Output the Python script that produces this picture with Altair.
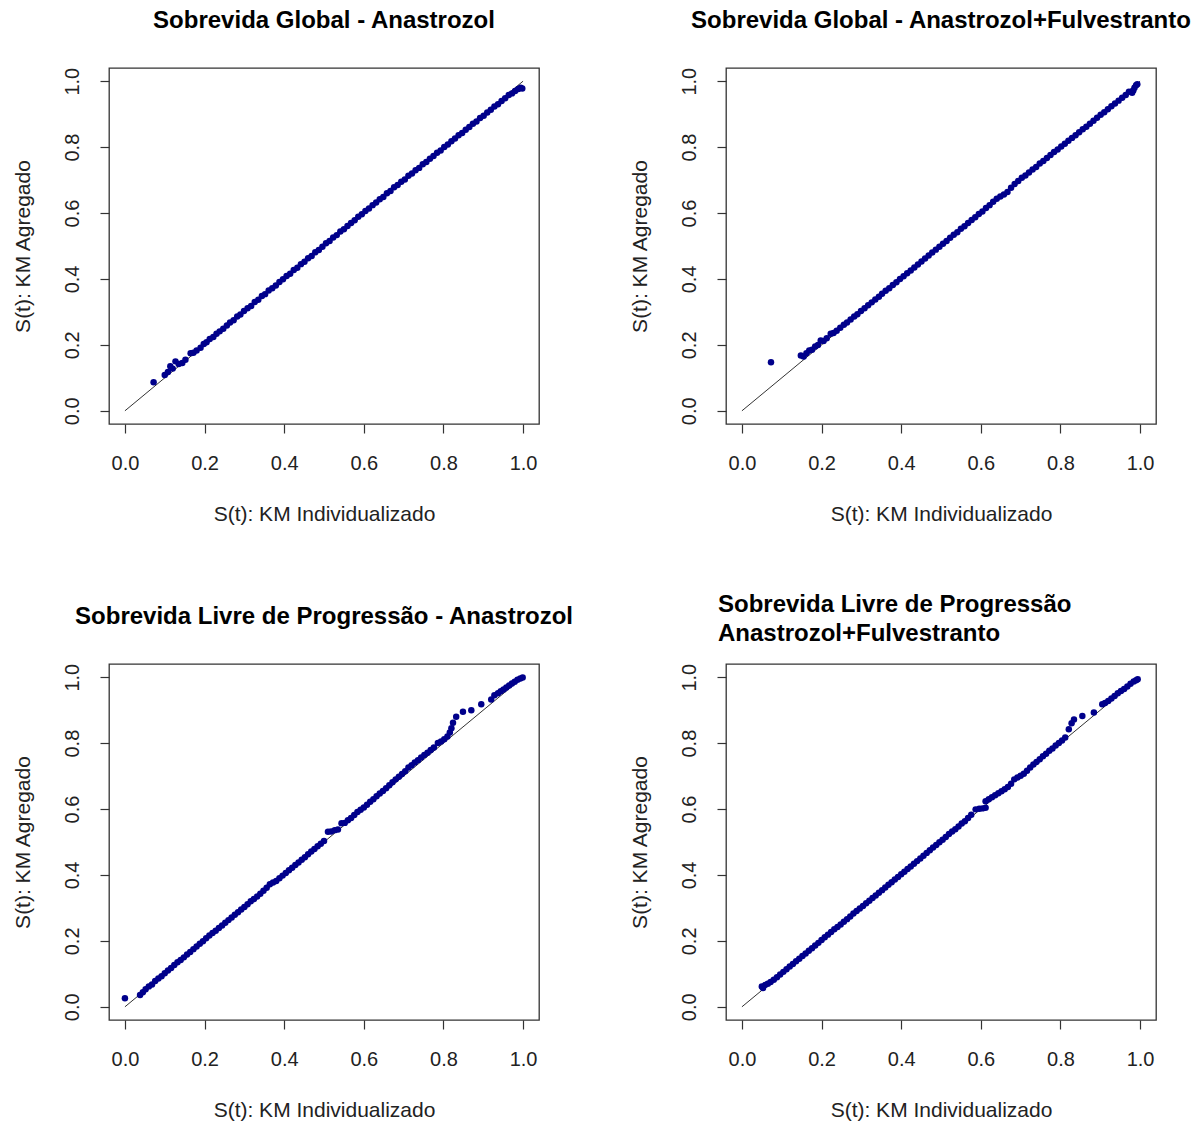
import altair as alt
import pandas as pd

# ---- data (x = KM individualizado, y = KM agregado) ----
og_anastrozol = [
    (0.072, 0.087), (0.100, 0.109), (0.108, 0.118), (0.114, 0.135), (0.120, 0.128),
    (0.127, 0.150), (0.135, 0.142), (0.144, 0.145), (0.152, 0.155), (0.165, 0.175),
    (0.172, 0.176), (0.180, 0.183), (0.190, 0.191), (0.198, 0.203), (0.205, 0.208),
    (0.213, 0.218), (0.222, 0.224), (0.230, 0.234), (0.238, 0.241), (0.247, 0.249),
    (0.256, 0.259), (0.264, 0.268), (0.273, 0.275), (0.282, 0.286), (0.290, 0.292),
    (0.299, 0.303), (0.308, 0.311), (0.317, 0.318), (0.326, 0.330), (0.335, 0.337),
    (0.344, 0.348), (0.352, 0.354), (0.361, 0.365), (0.370, 0.372), (0.379, 0.380),
    (0.388, 0.391), (0.397, 0.399), (0.406, 0.409), (0.415, 0.416), (0.424, 0.427),
    (0.433, 0.434), (0.442, 0.445), (0.451, 0.452), (0.460, 0.463), (0.469, 0.470),
    (0.478, 0.481), (0.487, 0.488), (0.496, 0.498), (0.505, 0.508), (0.514, 0.515),
    (0.523, 0.526), (0.532, 0.533), (0.541, 0.544), (0.550, 0.551), (0.559, 0.561),
    (0.568, 0.570), (0.577, 0.578), (0.586, 0.589), (0.595, 0.596), (0.604, 0.606),
    (0.613, 0.614), (0.622, 0.624), (0.631, 0.632), (0.640, 0.642), (0.649, 0.649),
    (0.658, 0.660), (0.667, 0.667), (0.676, 0.678), (0.685, 0.685), (0.694, 0.695),
    (0.703, 0.702), (0.712, 0.713), (0.721, 0.720), (0.730, 0.730), (0.739, 0.737),
    (0.748, 0.748), (0.757, 0.755), (0.766, 0.765), (0.775, 0.773), (0.784, 0.783),
    (0.793, 0.790), (0.802, 0.800), (0.811, 0.808), (0.820, 0.818), (0.829, 0.826),
    (0.838, 0.836), (0.847, 0.843), (0.856, 0.853), (0.865, 0.861), (0.874, 0.871),
    (0.883, 0.878), (0.892, 0.888), (0.901, 0.895), (0.910, 0.905), (0.919, 0.913),
    (0.928, 0.923), (0.937, 0.930), (0.946, 0.940), (0.955, 0.948), (0.964, 0.958),
    (0.972, 0.963), (0.980, 0.970), (0.988, 0.976), (0.994, 0.980), (0.998, 0.978),
]

og_anastrozol_fulvestranto = [
    (0.073, 0.147), (0.148, 0.168), (0.155, 0.165), (0.162, 0.175), (0.169, 0.183),
    (0.176, 0.185), (0.184, 0.195), (0.191, 0.200), (0.198, 0.213), (0.205, 0.212),
    (0.213, 0.220), (0.223, 0.234), (0.230, 0.236), (0.238, 0.243), (0.247, 0.252),
    (0.256, 0.261), (0.264, 0.268), (0.273, 0.277), (0.282, 0.286), (0.290, 0.293),
    (0.299, 0.303), (0.308, 0.311), (0.317, 0.320), (0.326, 0.329), (0.335, 0.338),
    (0.344, 0.346), (0.352, 0.355), (0.361, 0.364), (0.370, 0.372), (0.379, 0.382),
    (0.388, 0.390), (0.397, 0.400), (0.406, 0.408), (0.415, 0.417), (0.424, 0.426),
    (0.433, 0.435), (0.442, 0.444), (0.451, 0.453), (0.460, 0.462), (0.469, 0.471),
    (0.478, 0.480), (0.487, 0.489), (0.496, 0.498), (0.505, 0.507), (0.514, 0.515),
    (0.523, 0.525), (0.532, 0.534), (0.541, 0.542), (0.550, 0.552), (0.559, 0.560),
    (0.568, 0.570), (0.577, 0.579), (0.586, 0.587), (0.595, 0.597), (0.604, 0.605),
    (0.613, 0.615), (0.622, 0.624), (0.631, 0.634), (0.640, 0.643), (0.649, 0.650),
    (0.658, 0.656), (0.667, 0.664), (0.676, 0.677), (0.685, 0.688), (0.694, 0.697),
    (0.703, 0.707), (0.712, 0.714), (0.721, 0.723), (0.730, 0.732), (0.739, 0.740),
    (0.748, 0.750), (0.757, 0.758), (0.766, 0.767), (0.775, 0.776), (0.784, 0.785),
    (0.793, 0.793), (0.802, 0.802), (0.811, 0.810), (0.820, 0.819), (0.829, 0.828),
    (0.838, 0.836), (0.847, 0.845), (0.856, 0.854), (0.865, 0.862), (0.874, 0.871),
    (0.883, 0.880), (0.892, 0.889), (0.901, 0.898), (0.910, 0.906), (0.919, 0.915),
    (0.928, 0.924), (0.937, 0.932), (0.946, 0.941), (0.955, 0.950), (0.964, 0.958),
    (0.972, 0.968), (0.980, 0.965), (0.983, 0.972), (0.986, 0.980), (0.990, 0.988),
    (0.993, 0.991),
]

slp_anastrozol = [
    (0.000, 0.026), (0.038, 0.036), (0.045, 0.044), (0.052, 0.053), (0.060, 0.062),
    (0.068, 0.068), (0.076, 0.078), (0.084, 0.086), (0.092, 0.093), (0.100, 0.102),
    (0.108, 0.110), (0.116, 0.118), (0.124, 0.127), (0.132, 0.135), (0.140, 0.142),
    (0.148, 0.150), (0.156, 0.159), (0.164, 0.166), (0.172, 0.175), (0.180, 0.183),
    (0.188, 0.191), (0.196, 0.199), (0.204, 0.208), (0.212, 0.216), (0.220, 0.224),
    (0.228, 0.231), (0.236, 0.239), (0.244, 0.247), (0.252, 0.255), (0.260, 0.263),
    (0.268, 0.271), (0.276, 0.279), (0.284, 0.287), (0.292, 0.295), (0.300, 0.303),
    (0.308, 0.311), (0.316, 0.320), (0.324, 0.327), (0.332, 0.335), (0.340, 0.343),
    (0.348, 0.352), (0.356, 0.361), (0.364, 0.372), (0.372, 0.377), (0.380, 0.382),
    (0.388, 0.390), (0.396, 0.398), (0.404, 0.406), (0.412, 0.414), (0.420, 0.422),
    (0.428, 0.430), (0.436, 0.438), (0.444, 0.446), (0.452, 0.454), (0.460, 0.463),
    (0.468, 0.471), (0.476, 0.479), (0.484, 0.487), (0.492, 0.495), (0.500, 0.503),
    (0.510, 0.531), (0.518, 0.532), (0.527, 0.536), (0.535, 0.538), (0.544, 0.557),
    (0.552, 0.558), (0.560, 0.566), (0.568, 0.573), (0.576, 0.582), (0.584, 0.591),
    (0.592, 0.598), (0.600, 0.605), (0.608, 0.613), (0.616, 0.622), (0.624, 0.630),
    (0.632, 0.639), (0.640, 0.647), (0.648, 0.655), (0.656, 0.663), (0.664, 0.672),
    (0.672, 0.681), (0.680, 0.690), (0.688, 0.698), (0.696, 0.706), (0.704, 0.715),
    (0.712, 0.726), (0.720, 0.733), (0.728, 0.741), (0.736, 0.748), (0.744, 0.756),
    (0.752, 0.764), (0.760, 0.771), (0.768, 0.779), (0.776, 0.787), (0.786, 0.800),
    (0.794, 0.805), (0.802, 0.812), (0.810, 0.820), (0.816, 0.832), (0.820, 0.845),
    (0.824, 0.862), (0.832, 0.880), (0.849, 0.895), (0.870, 0.900), (0.895, 0.918),
    (0.920, 0.932), (0.928, 0.945), (0.937, 0.951), (0.944, 0.957), (0.951, 0.963),
    (0.958, 0.969), (0.965, 0.975), (0.972, 0.981), (0.979, 0.986), (0.986, 0.992),
    (0.993, 0.996), (0.999, 0.999),
]

slp_anastrozol_fulvestranto = [
    (0.050, 0.062), (0.053, 0.057), (0.058, 0.066), (0.065, 0.070), (0.072, 0.075),
    (0.080, 0.082), (0.088, 0.090), (0.096, 0.098), (0.104, 0.106), (0.112, 0.114),
    (0.120, 0.122), (0.128, 0.130), (0.136, 0.138), (0.144, 0.146), (0.152, 0.154),
    (0.160, 0.162), (0.168, 0.170), (0.176, 0.178), (0.184, 0.186), (0.192, 0.194),
    (0.200, 0.203), (0.208, 0.211), (0.216, 0.219), (0.224, 0.227), (0.232, 0.235),
    (0.240, 0.242), (0.248, 0.250), (0.256, 0.258), (0.264, 0.266), (0.272, 0.274),
    (0.280, 0.283), (0.288, 0.291), (0.296, 0.298), (0.304, 0.306), (0.312, 0.314),
    (0.320, 0.322), (0.328, 0.330), (0.336, 0.338), (0.344, 0.346), (0.352, 0.354),
    (0.360, 0.362), (0.368, 0.370), (0.376, 0.378), (0.384, 0.386), (0.392, 0.394),
    (0.400, 0.402), (0.408, 0.410), (0.416, 0.418), (0.424, 0.426), (0.432, 0.434),
    (0.440, 0.442), (0.448, 0.450), (0.456, 0.458), (0.464, 0.467), (0.472, 0.475),
    (0.480, 0.483), (0.488, 0.491), (0.496, 0.499), (0.504, 0.507), (0.512, 0.515),
    (0.520, 0.524), (0.528, 0.532), (0.536, 0.539), (0.544, 0.547), (0.552, 0.556),
    (0.560, 0.563), (0.568, 0.573), (0.576, 0.583), (0.587, 0.599), (0.596, 0.601),
    (0.604, 0.602), (0.612, 0.604), (0.612, 0.624), (0.620, 0.630), (0.628, 0.636),
    (0.636, 0.642), (0.644, 0.648), (0.652, 0.654), (0.660, 0.660), (0.668, 0.667),
    (0.676, 0.677), (0.684, 0.690), (0.692, 0.696), (0.700, 0.701), (0.708, 0.707),
    (0.716, 0.716), (0.724, 0.726), (0.732, 0.735), (0.740, 0.743), (0.748, 0.751),
    (0.756, 0.760), (0.764, 0.768), (0.772, 0.777), (0.780, 0.784), (0.788, 0.793),
    (0.796, 0.800), (0.804, 0.808), (0.812, 0.817), (0.821, 0.842), (0.828, 0.860),
    (0.834, 0.872), (0.855, 0.882), (0.884, 0.893), (0.905, 0.918), (0.912, 0.922),
    (0.920, 0.928), (0.928, 0.935), (0.936, 0.943), (0.944, 0.951), (0.952, 0.958),
    (0.960, 0.964), (0.968, 0.972), (0.976, 0.980), (0.984, 0.987), (0.990, 0.991),
    (0.994, 0.994),
]

diag_line = [(0.0, 0.0), (1.0, 1.0)]
tick_values = [0.0, 0.2, 0.4, 0.6, 0.8, 1.0]

titles = [
    "Sobrevida Global - Anastrozol",
    "Sobrevida Global - Anastrozol+Fulvestranto",
    "Sobrevida Livre de Progressão - Anastrozol",
    ["Sobrevida Livre de Progressão", "Anastrozol+Fulvestranto"],
]
x_title = "S(t): KM Individualizado"
y_title = "S(t): KM Agregado"

FONT = "Liberation Sans"
W, H = 430, 356
DOMAIN = [-0.04, 1.04]


def panel(points, title, two_line=False):
    df = pd.DataFrame(points, columns=["x", "y"])
    dl = pd.DataFrame(diag_line, columns=["x", "y"])
    xs = alt.Scale(domain=DOMAIN, nice=False, zero=False)
    ys = alt.Scale(domain=DOMAIN, nice=False, zero=False)
    xaxis = alt.Axis(
        values=tick_values, format=".1f", title=x_title, grid=False, domain=False,
        tickSize=9, tickColor="#333", tickWidth=1.2, labelPadding=20,
        labelFont=FONT, labelFontSize=20, labelColor="#222", labelFlush=False,
        labelOverlap=False, titleFont=FONT, titleFontSize=21, titleFontWeight="normal",
        titleColor="#222", titlePadding=30, minExtent=49, maxExtent=49,
    )
    yaxis = alt.Axis(
        values=tick_values, format=".1f", title=y_title, grid=False, domain=False,
        tickSize=9, tickColor="#333", tickWidth=1.2, labelPadding=18,
        labelAngle=270, labelAlign="center", labelBaseline="bottom",
        labelFont=FONT, labelFontSize=20, labelColor="#222", labelFlush=False,
        labelOverlap=False, titleFont=FONT, titleFontSize=21, titleFontWeight="normal",
        titleColor="#222", titlePadding=29, minExtent=47, maxExtent=47,
    )
    line = alt.Chart(dl).mark_line(color="#333", strokeWidth=1).encode(
        x=alt.X("x:Q", scale=xs, axis=xaxis),
        y=alt.Y("y:Q", scale=ys, axis=yaxis),
    )
    pts = alt.Chart(df).mark_circle(size=42, color="#00008B", opacity=1).encode(
        x=alt.X("x:Q", scale=xs, axis=xaxis),
        y=alt.Y("y:Q", scale=ys, axis=yaxis),
    )
    if two_line:
        tp = alt.TitleParams(
            text=title, font=FONT, fontSize=24, fontWeight="bold", color="black",
            anchor="start", frame="group", dx=-8, baseline="bottom", offset=-7,
            lineHeight=29,
        )
    else:
        tp = alt.TitleParams(
            text=title, font=FONT, fontSize=24, fontWeight="bold", color="black",
            anchor="middle", frame="group", baseline="bottom", offset=10,
        )
    return alt.layer(line, pts).properties(width=W, height=H, title=tp)


p1 = panel(og_anastrozol, titles[0])
p2 = panel(og_anastrozol_fulvestranto, titles[1])
p3 = panel(slp_anastrozol, titles[2])
p4 = panel(slp_anastrozol_fulvestranto, titles[3], two_line=True)

chart = (
    alt.concat(p1, p2, p3, p4, columns=2, spacing={"row": 240, "column": 187},
               bounds="flush")
    .properties(padding={"left": 11, "top": 8, "right": 2, "bottom": 5}, background="white")
    .configure_view(stroke="#333", strokeWidth=1.3)
)

chart.save("out.html", embed_options={"renderer": "svg", "actions": False})
